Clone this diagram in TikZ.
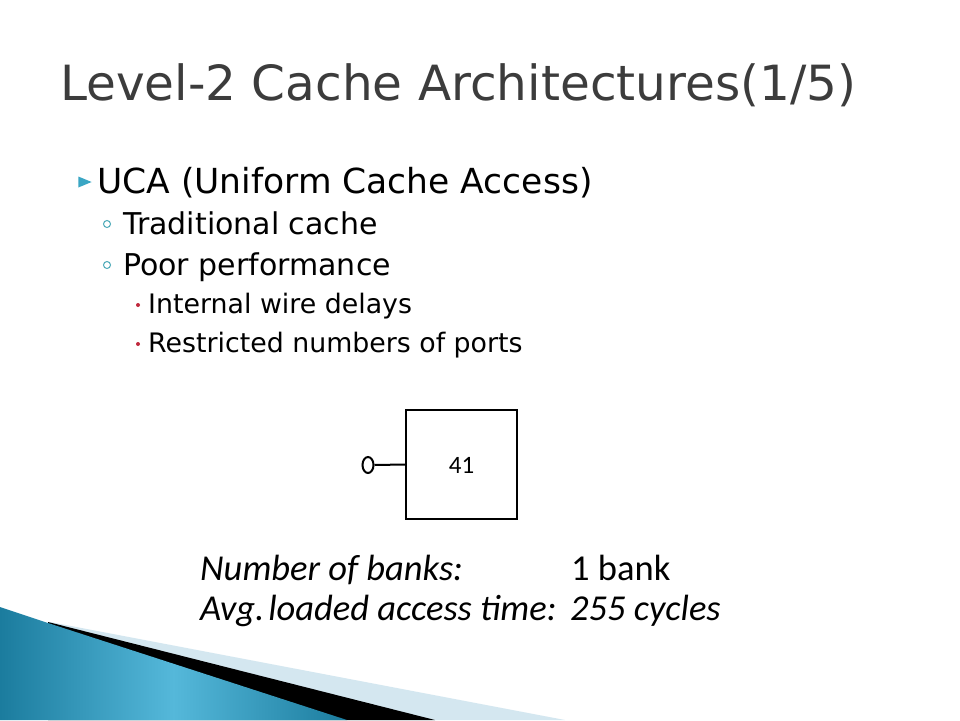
\documentclass[tikz,border=0pt]{standalone}
\usepackage{fontspec}
\setmainfont{DejaVu Sans}
\newfontfamily\capfont{Carlito}
\usetikzlibrary{shapes.geometric}
\definecolor{titlegray}{HTML}{3C3C3C}
\definecolor{tealbul}{HTML}{3AA6C4}
\definecolor{circbul}{HTML}{4BA9B8}
\definecolor{redbul}{HTML}{C0283C}
\definecolor{lightband}{HTML}{D4E7F0}
\definecolor{bluedark}{HTML}{1B7C9E}
\definecolor{bluelight}{HTML}{55B8DA}
\tikzset{
  titletxt/.style={anchor=base west, inner sep=0pt, font=\fontsize{48.5}{52}\selectfont},
  lvlone/.style={anchor=base west, inner sep=0pt, font=\fontsize{34.5}{38}\selectfont},
  lvltwo/.style={anchor=base west, inner sep=0pt, font=\fontsize{30}{33}\selectfont},
  lvlthree/.style={anchor=base west, inner sep=0pt, font=\fontsize{26.8}{30}\selectfont},
  captxt/.style={anchor=base west, inner sep=0pt, font=\capfont\fontsize{36.5}{40}\selectfont},
  bankbox/.style={draw, line width=2.2pt, minimum width=111pt, minimum height=109pt, inner sep=0pt},
  banklabel/.style={inner sep=0pt, font=\capfont\fontsize{25}{28}\selectfont},
  portcirc/.style={draw, line width=2pt, ellipse, minimum width=11pt, minimum height=16pt, inner sep=0pt}
}
\begin{document}
\begin{tikzpicture}[x=1pt,y=-1pt]
\useasboundingbox (0,0) rectangle (960,720);
\fill[white] (0,0) rectangle (960,720);
% bottom decoration
\fill[lightband] (50,622) -- (565,720) -- (50,720) -- cycle;
\fill[black] (48,622) -- (435,720) -- (48,720) -- cycle;
\shade[left color=bluedark, right color=bluedark, middle color=bluelight] (0,607) -- (48,623) -- (347,720) -- (0,720) -- cycle;
% title
\node[titletxt, text=titlegray] (title) at (60,100) {Level-2 Cache Architectures(1/5)};
% bullets
\node[isosceles triangle, fill=tealbul, minimum height=9pt, minimum width=11pt, inner sep=0pt] (b1) at (82,182) {};
\node[lvlone] (t1) at (97,193) {UCA (Uniform Cache Access)};
\node[circle, draw=circbul, line width=1pt, minimum size=7pt, inner sep=0pt] (b2) at (107,224) {};
\node[lvltwo] (t2) at (123,234) {Traditional cache};
\node[circle, draw=circbul, line width=1pt, minimum size=7pt, inner sep=0pt] (b3) at (107,265) {};
\node[lvltwo] (t3) at (123,275) {Poor performance};
\node[circle, fill=redbul, minimum size=4pt, inner sep=0pt] (b4) at (138,305) {};
\node[lvlthree] (t4) at (148,313) {Internal wire delays};
\node[circle, fill=redbul, minimum size=4pt, inner sep=0pt] (b5) at (138,344) {};
\node[lvlthree] (t5) at (148,352) {Restricted numbers of ports};
% cache bank
\node[bankbox] (bank) at (461.5,464.5) {};
\node[banklabel] (banknum) at (461.5,465) {41};
\node[portcirc] (port) at (368,465) {};
\draw[line width=2pt] (port.east) -- (bank.west);
% caption
\node[captxt] (c1) at (200,580) {\itshape Number of banks:};
\node[captxt] (c2) at (571,580) {1 bank};
\node[captxt] (c3) at (200,620) {\itshape Avg.\hspace{-2pt}\,loaded access time:};
\node[captxt] (c4) at (570,620) {\itshape 255 cycles};
\end{tikzpicture}
\end{document}
